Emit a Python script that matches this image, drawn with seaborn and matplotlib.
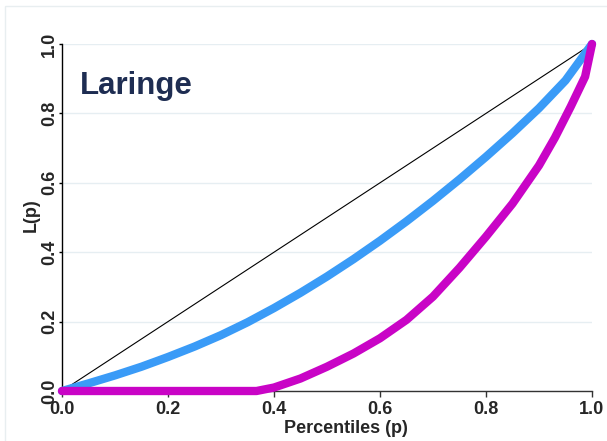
"""
Lorenz curves for 'Laringe' (Stata-like look), drawn with seaborn.
"""
import matplotlib
matplotlib.use("Agg")
import matplotlib.pyplot as plt
import seaborn as sns
import pandas as pd
from matplotlib.patches import Rectangle

# Data
title = "Laringe"
x_label = "Percentiles (p)"
y_label = "L(p)"
tick_values = [0.0, 0.2, 0.4, 0.6, 0.8, 1.0]
tick_labels = ["0.0", "0.2", "0.4", "0.6", "0.8", "1.0"]

equality_p = [0.0, 1.0]
equality_L = [0.0, 1.0]

blue_p = [0.0, 0.05, 0.1, 0.15, 0.2, 0.25, 0.3, 0.35, 0.4, 0.45, 0.5,
          0.55, 0.6, 0.65, 0.7, 0.75, 0.8, 0.85, 0.9, 0.95, 1.0]
blue_L = [0.0, 0.022, 0.045, 0.070, 0.098, 0.128, 0.161, 0.198, 0.239, 0.283, 0.330,
          0.380, 0.433, 0.489, 0.548, 0.610, 0.675, 0.743, 0.815, 0.895, 1.0]

magenta_p = [0.0, 0.367, 0.40, 0.45, 0.50, 0.55, 0.60, 0.65, 0.70, 0.75,
             0.80, 0.85, 0.90, 0.93, 0.96, 0.987, 1.0]
magenta_L = [0.0, 0.0, 0.010, 0.036, 0.070, 0.108, 0.152, 0.205, 0.272, 0.355,
             0.445, 0.540, 0.650, 0.730, 0.820, 0.906, 1.0]

BLUE = "#3a9bf7"
MAGENTA = "#c904c6"
NAVY = "#1e2d52"
GRID = "#e6eef2"

sns.set_style("white")
plt.rcParams["font.family"] = ["Liberation Sans", "DejaVu Sans"]

fig = plt.figure(figsize=(6.07, 4.41), dpi=100)
ax = fig.add_axes([62 / 607, 50 / 441, 530 / 607, 347 / 441])

# faint outer frame of the graph region
fig.patches.append(Rectangle((5 / 607, -0.1), 1.2, 1.1 - 6 / 441,
                             transform=fig.transFigure, fill=False,
                             edgecolor="#e8eef0", linewidth=1.0, zorder=0))

df_eq = pd.DataFrame({"p": equality_p, "L": equality_L})
df_blue = pd.DataFrame({"p": blue_p, "L": blue_L})
df_mag = pd.DataFrame({"p": magenta_p, "L": magenta_L})

sns.lineplot(data=df_eq, x="p", y="L", ax=ax, color="black", linewidth=0.8,
             zorder=3, clip_on=False)
sns.lineplot(data=df_blue, x="p", y="L", ax=ax, color=BLUE, linewidth=6,
             zorder=4, clip_on=False, sort=False, solid_joinstyle="round")
sns.lineplot(data=df_mag, x="p", y="L", ax=ax, color=MAGENTA, linewidth=6,
             zorder=5, clip_on=False, sort=False, solid_joinstyle="round")

ax.set_xlim(0, 1)
ax.set_ylim(0, 1)
ax.set_xticks(tick_values)
ax.set_yticks(tick_values)
ax.set_xticklabels(tick_labels, fontsize=13, fontweight="bold")
ax.set_yticklabels(tick_labels, fontsize=13, fontweight="bold", rotation=90,
                   va="center")

ax.grid(axis="y", color=GRID, linewidth=1.0)
ax.grid(axis="x", visible=False)
ax.set_axisbelow(True)

for side in ["top", "right"]:
    ax.spines[side].set_visible(False)
ax.spines["left"].set_color("black")
ax.spines["left"].set_linewidth(1.0)
ax.spines["bottom"].set_color("#333333")
ax.spines["bottom"].set_linewidth(1.0)

ax.tick_params(axis="x", direction="out", length=4, width=1, pad=3,
               bottom=True, color="#333333")
ax.tick_params(axis="y", direction="out", length=2.5, width=1, pad=0.5,
               left=True, color="black")

ax.set_xlabel(x_label, fontsize=13, fontweight="bold")
ax.set_ylabel(y_label, fontsize=13, fontweight="bold")
ax.xaxis.set_label_coords(0.536, -0.085)
ax.yaxis.set_label_coords(-0.042, 0.507)

ax.text(0.034, 0.88, title, transform=ax.transAxes, fontsize=22.5,
        fontweight="bold", color=NAVY, va="center", ha="left")

fig.savefig("out.png", dpi=100)
